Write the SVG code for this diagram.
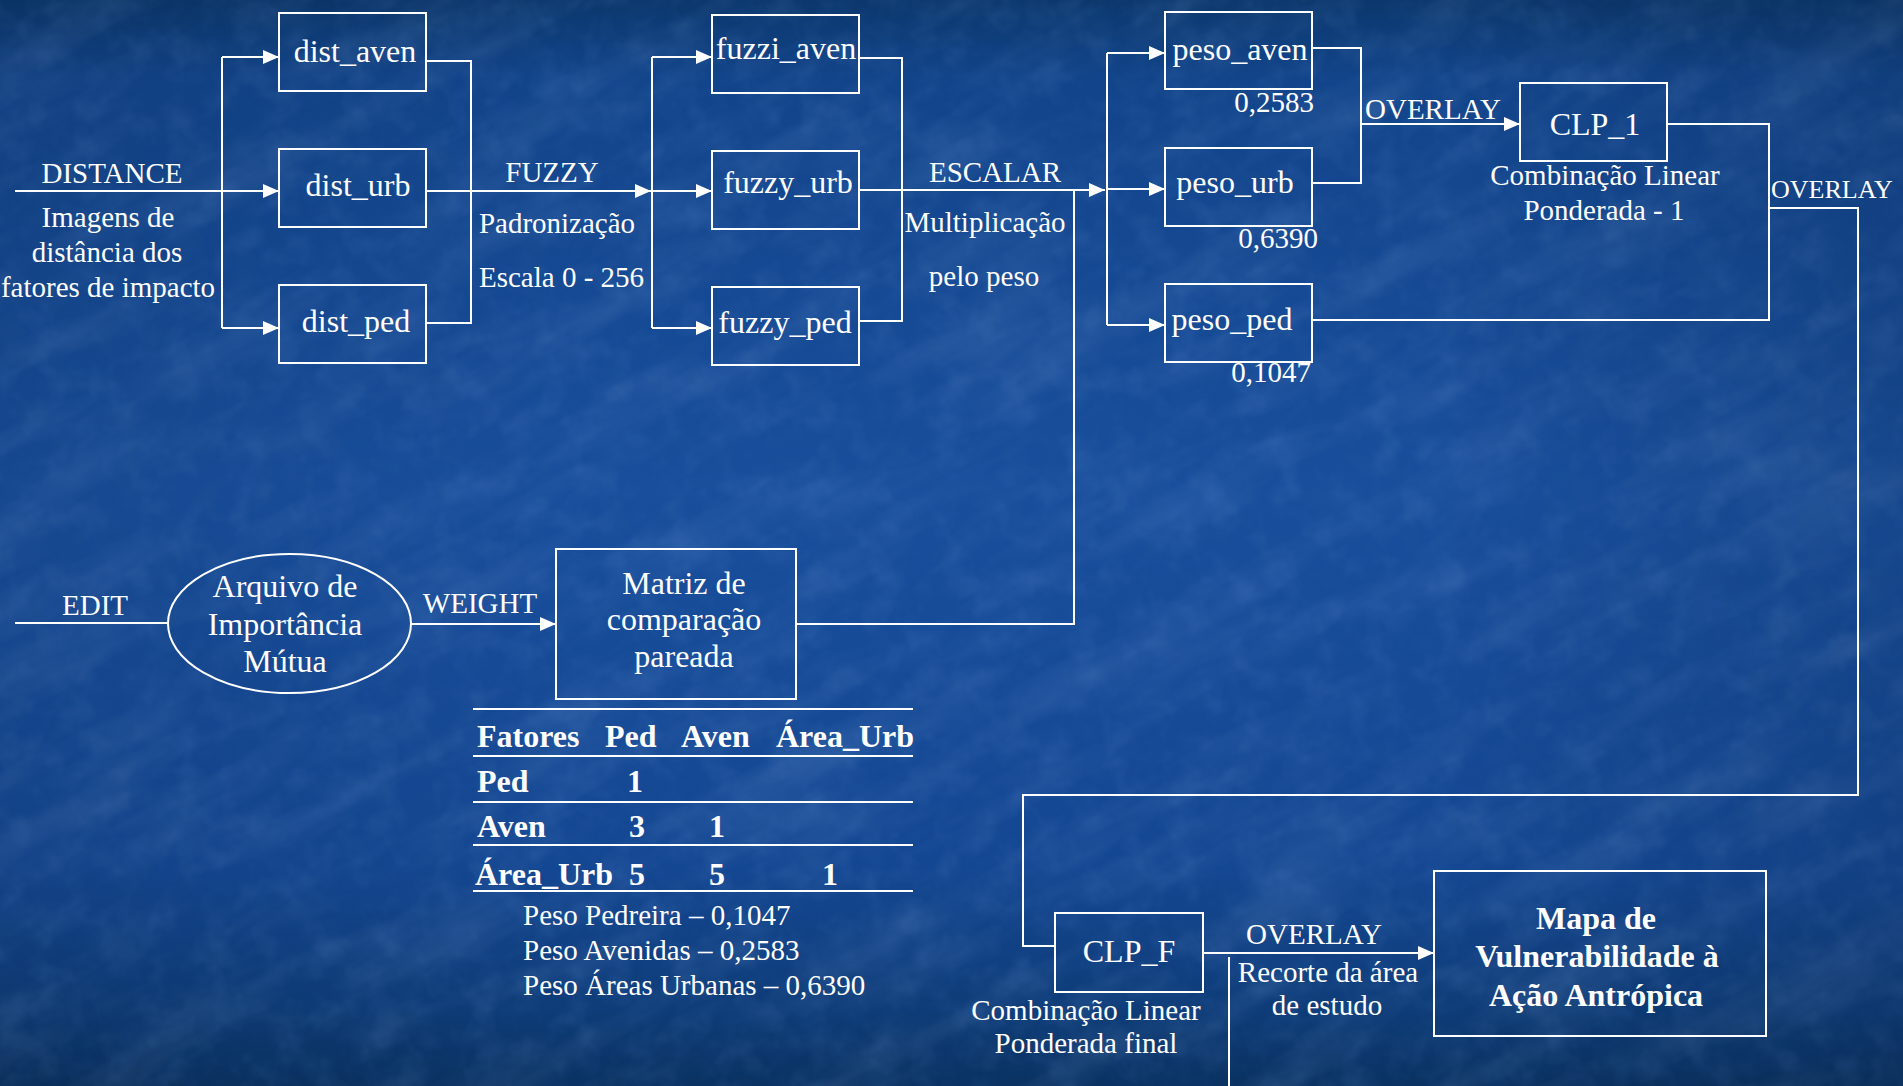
<svg xmlns="http://www.w3.org/2000/svg" width="1903" height="1086" viewBox="0 0 1903 1086">
<style>
text{font-family:"Liberation Serif","Times New Roman",serif;fill:#fff}
.l{font-size:32px;text-anchor:middle}
.a{font-size:29px;text-anchor:middle}
.s{text-anchor:start}
.e{text-anchor:end}
.b{font-weight:bold}
.box{fill:none;stroke:#fff;stroke-width:2}
.c{fill:none;stroke:#fff;stroke-width:2}
.arr{marker-end:url(#ah)}
</style>
<defs>
<marker id="ah" viewBox="0 0 10 10" refX="10" refY="5" markerUnits="userSpaceOnUse" markerWidth="16" markerHeight="14" orient="auto" preserveAspectRatio="none">
<path d="M0,0 L10,5 L0,10 z" fill="#fff"/>
</marker>
<linearGradient id="bg" x1="0" y1="0" x2="0" y2="1">
<stop offset="0" stop-color="#0b376c"/>
<stop offset="0.07" stop-color="#12448a"/>
<stop offset="0.45" stop-color="#184e9c"/>
<stop offset="0.8" stop-color="#144792"/>
<stop offset="0.93" stop-color="#0e3c78"/>
<stop offset="1" stop-color="#0a3262"/>
</linearGradient>
<linearGradient id="side" x1="0" y1="0" x2="1" y2="0">
<stop offset="0" stop-color="#000" stop-opacity="0.08"/>
<stop offset="0.3" stop-color="#000" stop-opacity="0"/>
<stop offset="0.75" stop-color="#000" stop-opacity="0"/>
<stop offset="1" stop-color="#000" stop-opacity="0.1"/>
</linearGradient>
<filter id="tex" x="0" y="0" width="100%" height="100%">
<feTurbulence type="fractalNoise" baseFrequency="0.005 0.02" numOctaves="4" seed="7"/>
<feColorMatrix type="matrix" values="0 0 0 0 0.5  0 0 0 0 0.68  0 0 0 0 1  1.4 0 0 0 -0.62"/>
</filter>
<filter id="tex2" x="0" y="0" width="100%" height="100%">
<feTurbulence type="fractalNoise" baseFrequency="0.035" numOctaves="3" seed="11"/>
<feColorMatrix type="matrix" values="0 0 0 0 0.03  0 0 0 0 0.12  0 0 0 0 0.35  0 0 1.6 0 -0.7"/>
</filter>
<filter id="tex3" x="0" y="0" width="100%" height="100%">
<feTurbulence type="fractalNoise" baseFrequency="0.03" numOctaves="3" seed="23"/>
<feColorMatrix type="matrix" values="0 0 0 0 0.35  0 0 0 0 0.55  0 0 0 0 0.95  0 1.6 0 0 -0.75"/>
</filter>
</defs>
<g id="background">
<rect width="1903" height="1086" fill="url(#bg)"/>
<g transform="rotate(-28 951 543)">
<rect x="-500" y="-700" width="2900" height="2500" filter="url(#tex)" opacity="0.18"/>
</g>
<rect width="1903" height="1086" filter="url(#tex2)" opacity="0.25"/>
<rect width="1903" height="1086" filter="url(#tex3)" opacity="0.12"/>
<rect width="1903" height="1086" fill="url(#side)"/>
</g>

<g id="connectors">
<path class="c arr" d="M15,191 H279"/>
<path class="c" d="M222,57 V328"/>
<path class="c arr" d="M222,57 H279"/>
<path class="c arr" d="M222,328 H279"/>
<path class="c" d="M426,61 H471 V323 H426"/>
<path class="c arr" d="M426,191 H651"/>
<path class="c" d="M652,57 V328"/>
<path class="c arr" d="M652,57 H712"/>
<path class="c arr" d="M652,191 H712"/>
<path class="c arr" d="M652,328 H712"/>
<path class="c" d="M859,58 H902 V321 H859"/>
<path class="c arr" d="M859,190 H1105"/>
<path class="c" d="M1107,53 V325"/>
<path class="c arr" d="M1107,53 H1165"/>
<path class="c arr" d="M1107,189 H1165"/>
<path class="c arr" d="M1107,325 H1165"/>
<path class="c" d="M796,624 H1074 V190"/>
<path class="c" d="M1312,48 H1361 V183 H1312"/>
<path class="c arr" d="M1361,124 H1520"/>
<path class="c" d="M1667,124 H1769 V320 H1312"/>
<path class="c" d="M1769,208 H1858 V795 H1023 V946 H1055"/>
<path class="c arr" d="M1203,953 H1434"/>
<path class="c" d="M1229,957 V1086"/>
<path class="c" d="M15,623 H168"/>
<path class="c arr" d="M411,624 H556"/>
</g>

<g id="label-distance">
<text class="a" x="112" y="183">DISTANCE</text>
<text class="a" x="108" y="227">Imagens de</text>
<text class="a" x="107" y="262">distância dos</text>
<text class="a" x="108" y="297">fatores de impacto</text>
</g>
<g id="dist_aven"><rect class="box" x="279" y="13" width="147" height="78"/><text class="l" x="355" y="62">dist_aven</text></g>
<g id="dist_urb"><rect class="box" x="279" y="149" width="147" height="78"/><text class="l" x="358" y="196">dist_urb</text></g>
<g id="dist_ped"><rect class="box" x="279" y="285" width="147" height="78"/><text class="l" x="356" y="332">dist_ped</text></g>

<g id="label-fuzzy">
<text class="a" x="552" y="182">FUZZY</text>
<text class="a" x="557" y="233">Padronização</text>
<text class="a s" x="479" y="287">Escala 0 - 256</text>
</g>
<g id="fuzzi_aven"><rect class="box" x="712" y="15" width="147" height="78"/><text class="l" x="786" y="59">fuzzi_aven</text></g>
<g id="fuzzy_urb"><rect class="box" x="712" y="151" width="147" height="78"/><text class="l" x="788" y="193">fuzzy_urb</text></g>
<g id="fuzzy_ped"><rect class="box" x="712" y="287" width="147" height="78"/><text class="l" x="785" y="333">fuzzy_ped</text></g>

<g id="label-escalar">
<text class="a" x="995" y="182">ESCALAR</text>
<text class="a" x="985" y="232">Multiplicação</text>
<text class="a" x="984" y="286">pelo peso</text>
</g>
<g id="peso_aven"><rect class="box" x="1165" y="12" width="147" height="77"/><text class="l" x="1240" y="60">peso_aven</text><text class="a e" x="1314" y="112">0,2583</text></g>
<g id="peso_urb"><rect class="box" x="1165" y="148" width="147" height="78"/><text class="l" x="1235" y="193">peso_urb</text><text class="a e" x="1318" y="248">0,6390</text></g>
<g id="peso_ped"><rect class="box" x="1165" y="284" width="147" height="78"/><text class="l" x="1232" y="330">peso_ped</text><text class="a e" x="1311" y="382">0,1047</text></g>

<g id="label-overlay1"><text class="a s" x="1365" y="119">OVERLAY</text></g>
<g id="clp_1">
<rect class="box" x="1520" y="83" width="147" height="78"/>
<text class="l" x="1595" y="135">CLP_1</text>
<text class="a" x="1605" y="185">Combinação Linear</text>
<text class="a" x="1604" y="220">Ponderada - 1</text>
</g>
<g id="label-overlay2"><text class="a s" x="1771" y="198" style="font-size:26px">OVERLAY</text></g>

<g id="label-edit"><text class="a" x="95" y="615">EDIT</text></g>
<g id="arquivo">
<ellipse class="box" cx="289.5" cy="623.5" rx="121.5" ry="69.5"/>
<text class="l" x="285" y="597">Arquivo de</text>
<text class="l" x="285" y="635">Importância</text>
<text class="l" x="285" y="672">Mútua</text>
</g>
<g id="label-weight"><text class="a" x="480" y="613">WEIGHT</text></g>
<g id="matriz">
<rect class="box" x="556" y="549" width="240" height="150"/>
<text class="l" x="684" y="594">Matriz de</text>
<text class="l" x="684" y="630">comparação</text>
<text class="l" x="684" y="667">pareada</text>
</g>

<g id="tabela">
<path class="c" d="M473,709 H913 M473,756 H913 M473,802 H913 M473,845 H913 M473,891 H913"/>
<text class="l s b" x="477" y="747">Fatores</text>
<text class="l s b" x="605" y="747">Ped</text>
<text class="l s b" x="681" y="747">Aven</text>
<text class="l s b" x="776" y="747">Área_Urb</text>
<text class="l s b" x="477" y="792">Ped</text>
<text class="l s b" x="627" y="792">1</text>
<text class="l s b" x="477" y="837">Aven</text>
<text class="l s b" x="629" y="837">3</text>
<text class="l s b" x="709" y="837">1</text>
<text class="l s b" x="475" y="885">Área_Urb</text>
<text class="l s b" x="629" y="885">5</text>
<text class="l s b" x="709" y="885">5</text>
<text class="l s b" x="822" y="885">1</text>
<text class="a s" x="523" y="925">Peso Pedreira – 0,1047</text>
<text class="a s" x="523" y="960">Peso Avenidas – 0,2583</text>
<text class="a s" x="523" y="995">Peso Áreas Urbanas – 0,6390</text>
</g>

<g id="clp_f">
<rect class="box" x="1055" y="913" width="148" height="79"/>
<text class="l" x="1129" y="962">CLP_F</text>
<text class="a" x="1086" y="1020">Combinação Linear</text>
<text class="a" x="1086" y="1053">Ponderada final</text>
</g>
<g id="label-overlay3">
<text class="a" x="1314" y="944">OVERLAY</text>
<text class="a" x="1328" y="982">Recorte da área</text>
<text class="a" x="1327" y="1015">de estudo</text>
</g>
<g id="mapa">
<rect class="box" x="1434" y="871" width="332" height="165"/>
<text class="l b" x="1596" y="929">Mapa de</text>
<text class="l b" x="1597" y="967">Vulnerabilidade à</text>
<text class="l b" x="1596" y="1006">Ação Antrópica</text>
</g>
</svg>
